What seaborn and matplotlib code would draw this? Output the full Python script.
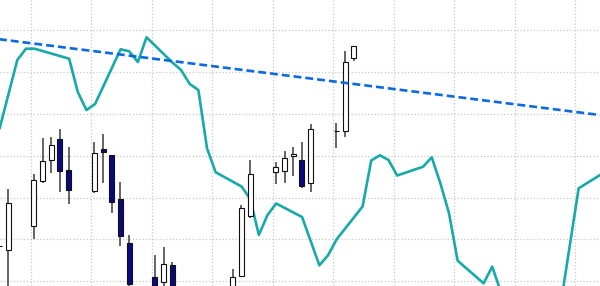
import numpy as np
import pandas as pd
import matplotlib
matplotlib.use("Agg")
import matplotlib.pyplot as plt
import seaborn as sns

# ---- candle data (day number, OHLC) ----
days   = [3, 4, 7, 8, 9, 10, 11, 14, 15, 16, 17, 18, 21, 22, 23,
          30, 31, 32, 35, 36, 37, 38, 39, 42, 43, 44]
opens  = [108.43, 107.47, 113.20, 124.02, 128.89, 133.91, 126.58, 121.63, 131.66, 130.09, 119.72, 109.07, 101.10, 99.90, 103.89,
          95.53, 101.34, 115.66, 126.17, 126.41, 129.99, 129.04, 123.40, 135.95, 135.82, 153.25]
highs  = [108.43, 122.04, 125.55, 134.15, 134.53, 136.37, 132.00, 133.33, 135.17, 130.09, 123.78, 110.98, 106.28, 108.19, 104.54,
          102.87, 118.15, 128.96, 128.49, 131.11, 132.00, 133.19, 137.56, 137.73, 154.92, 156.26]
lows   = [108.43, 96.73, 110.03, 123.40, 125.79, 121.39, 118.39, 121.16, 123.40, 116.43, 108.50, 97.92, 93.15, 96.73, 93.15,
          94.34, 101.03, 115.19, 123.23, 123.54, 125.14, 122.21, 121.25, 131.83, 134.38, 152.67]
closes = [108.43, 118.62, 124.12, 128.65, 132.47, 126.41, 121.73, 130.56, 130.80, 118.86, 110.82, 99.47, 95.53, 104.13, 95.53,
          101.10, 117.50, 125.55, 127.22, 129.51, 130.47, 122.83, 136.37, 135.82, 152.44, 156.26]

# ---- teal indicator line ----
line_days = [3.4, 5.45, 6.45, 7.45, 11.45, 12.45, 13.45, 14.45, 17.4, 18.4, 19.4, 20.4, 23.4, 24.4, 25.4, 26.4,
             27.4, 28.4, 31.4, 32.4, 33.4, 34.4, 35.4, 38.4, 40.4, 41.4, 42.4, 45.4, 46.4, 47.4, 48.4, 49.4,
             52.4, 53.4, 54.4, 55.4, 56.4, 59.4, 60.4, 61.4, 64.4, 68.4, 69.4, 70.4, 73.4]
line_vals = [136.48, 152.84, 155.54, 155.54, 153.15, 145.20, 140.90, 142.34, 155.40, 154.92, 152.36, 158.26, 152.24, 150.45, 147.11, 145.68,
             131.76, 126.03, 122.64, 119.65, 111.06, 115.83, 118.58, 115.35, 103.82, 106.21, 110.03, 117.86, 128.84, 130.09, 128.96, 125.26,
             127.36, 129.61, 123.40, 116.24, 104.92, 99.52, 103.49, 97.45, 93.10, 95.50, 108.90, 122.21, 126.05]

# ---- dashed trend line ----
trend_days = [3, 73]
trend_vals = [157.90, 139.67]

sns.set_style("whitegrid", {"grid.linestyle": ":", "grid.color": "#c8c8c8"})

fig = plt.figure(figsize=(6.0, 2.86), dpi=100)
ax = fig.add_axes([0, 0, 1, 1])

df_line = pd.DataFrame({"day": line_days, "val": line_vals})
sns.lineplot(data=df_line, x="day", y="val", ax=ax, color="#17aaa8", linewidth=1.9, zorder=2, sort=False)

tod = 0.38  # daily bars stamped mid-morning
xs = np.array(days) + tod
o = np.array(opens); c = np.array(closes); h = np.array(highs); l = np.array(lows)
up = c >= o
ax.vlines(xs, l, h, color="#3a3a3a", linewidth=1.1, zorder=3)
bottoms = np.minimum(o, c)
heights = np.abs(c - o)
ax.bar(xs[up], heights[up], bottom=bottoms[up], width=0.58, color="white",
       edgecolor="#111111", linewidth=0.8, zorder=4)
ax.bar(xs[~up], heights[~up], bottom=bottoms[~up], width=0.58, color="#0a0a80",
       edgecolor="#111111", linewidth=0.8, zorder=4)

df_tr = pd.DataFrame({"day": trend_days, "val": trend_vals})
sns.lineplot(data=df_tr, x="day", y="val", ax=ax, color="#0a6ae0", linewidth=1.9,
             dashes=False, zorder=5)
ax.lines[-1].set_dashes((3.0, 1.5))

ax.set_xlim(3.448, 72.87)
ax.set_ylim(98.88, 167.17)
ax.set_xticks(np.arange(7, 73, 7))
ax.set_yticks(np.arange(100, 167, 10))
ax.grid(True, linestyle=":", color="#c8c8c8", linewidth=0.9)
ax.set_axisbelow(True)
ax.tick_params(length=0, labelbottom=False, labelleft=False)
ax.set_xlabel(""); ax.set_ylabel("")
for s in ax.spines.values():
    s.set_visible(False)

fig.savefig("out.png", dpi=100)
